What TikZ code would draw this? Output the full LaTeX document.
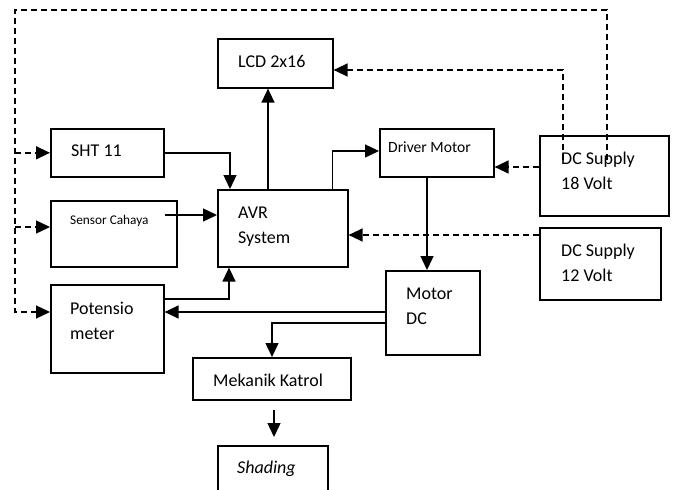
\documentclass[tikz,border=0pt]{standalone}
\usepackage{fontspec}
\setmainfont{Carlito}
\usetikzlibrary{arrows.meta,calc}
\begin{document}
\begin{tikzpicture}[x=1pt,y=-1pt,
  box/.style={draw, line width=1.6pt, inner sep=0pt, anchor=north west},
  txt/.style={anchor=base west, inner sep=0pt, font=\fontsize{18}{25.5}\selectfont},
  arr/.style={line width=1.4pt, -{Triangle[length=14pt,width=13pt]}},
  dsh/.style={line width=1.4pt, dash pattern=on 6pt off 4pt, -{Triangle[length=14pt,width=13pt]}},
]
\useasboundingbox (0,0) rectangle (675,490);
\clip (0,0) rectangle (675,490);

% boxes
\node[box, minimum width=115, minimum height=49] (lcd) at (217,38) {};
\node[box, minimum width=113, minimum height=48] (sht) at (50,128) {};
\node[box, minimum width=126, minimum height=66] (sen) at (50,200) {};
\node[box, minimum width=130, minimum height=77] (avr) at (217,189) {};
\node[box, minimum width=114, minimum height=48] (drv) at (379,128) {};
\node[box, minimum width=129, minimum height=80] (dca) at (539,135) {};
\node[box, minimum width=121, minimum height=72] (dcb) at (539,227) {};
\node[box, minimum width=94, minimum height=84] (mot) at (385,270) {};
\node[box, minimum width=113, minimum height=88] (pot) at (50,284) {};
\node[box, minimum width=158, minimum height=42] (mek) at (192,357) {};
\node[box, minimum width=110, minimum height=60] (shd) at (217,445) {};

% texts
\node[txt] (lcdT) at ($(lcd.north west)+(21,29)$) {LCD 2x16};
\node[txt] (shtT) at ($(sht.north west)+(21,28)$) {SHT 11};
\node[txt, font=\fontsize{13.3}{16}\selectfont] (senT) at ($(sen.north west)+(20,24)$) {Sensor Cahaya};
\node[txt] (avrT) at ($(avr.north west)+(21,29)$) {\begin{tabular}[t]{@{}l@{}}AVR\\System\end{tabular}};
\node[txt, font=\fontsize{15.6}{18}\selectfont] (drvT) at ($(drv.north west)+(9,24)$) {Driver Motor};
\node[txt] (dcaT) at ($(dca.north west)+(22,29)$) {\begin{tabular}[t]{@{}l@{}}DC Supply\\18 Volt\end{tabular}};
\node[txt] (dcbT) at ($(dcb.north west)+(22,29)$) {\begin{tabular}[t]{@{}l@{}}DC Supply\\12 Volt\end{tabular}};
\node[txt] (motT) at ($(mot.north west)+(21,29)$) {\begin{tabular}[t]{@{}l@{}}Motor\\DC\end{tabular}};
\node[txt] (potT) at ($(pot.north west)+(20,30)$) {\begin{tabular}[t]{@{}l@{}}Potensio\\meter\end{tabular}};
\node[txt] (mekT) at ($(mek.north west)+(21,29)$) {Mekanik Katrol};
\node[txt] (shdT) at ($(shd.north west)+(20,28)$) {\itshape Shading};

% outer dashed supply line
\coordinate (oS) at ($(dca.north west)+(68,25)$);
\coordinate (tr) at (607,10);
\coordinate (tl) at (15,10);
\coordinate (potIn) at ($(pot.north west)+(0,28)$);
\coordinate (senIn) at ($(sen.north west)+(0,27)$);
\draw[dsh] (oS) -- (tr) -- (tl) -- (tl |- potIn) -- (potIn);
\draw[dsh] (tl |- sht.west) -- (sht.west);
\draw[dsh] (tl |- senIn) -- (senIn);

% DC 18 to LCD and driver
\draw[dsh] ($(dca.north west)+(24,25)$) |- ($(lcd.north east)+(0,32)$);
\coordinate (dcaOut) at ($(dca.north west)+(0,32)$);
\draw[dsh] (dcaOut) -- (drv.east |- dcaOut);

% DC 12 to AVR
\coordinate (dcbOut) at ($(dcb.north west)+(0,8)$);
\draw[dsh] (dcbOut) -- (avr.east |- dcbOut);

% solid connections
\draw[arr] (sht.east) -| ($(avr.north west)+(13,0)$);
\draw[arr] ($(sen.north east)+(-13,15)$) -- ($(avr.north west)+(0,26)$);
\draw[arr] ($(avr.north west)+(51,0)$) -- ($(lcd.south west)+(51,0)$);
\draw[arr] ($(avr.north east)+(-16,0)$) |- ($(drv.north west)+(0,23)$);
\draw[arr] ($(drv.south west)+(48,0)$) -- ($(mot.north west)+(42,0)$);
\coordinate (motA) at ($(mot.north west)+(0,42)$);
\draw[arr] (motA) -- (pot.east |- motA);
\draw[arr] ($(mot.north west)+(0,53)$) -| ($(mek.north west)+(80,0)$);
\draw[arr] ($(pot.north east)+(0,15)$) -| ($(avr.south west)+(12,0)$);
\draw[arr, shorten <=9pt, shorten >=8pt] ($(mek.south west)+(82,0)$) -- ($(shd.north west)+(57,0)$);
\end{tikzpicture}
\end{document}
